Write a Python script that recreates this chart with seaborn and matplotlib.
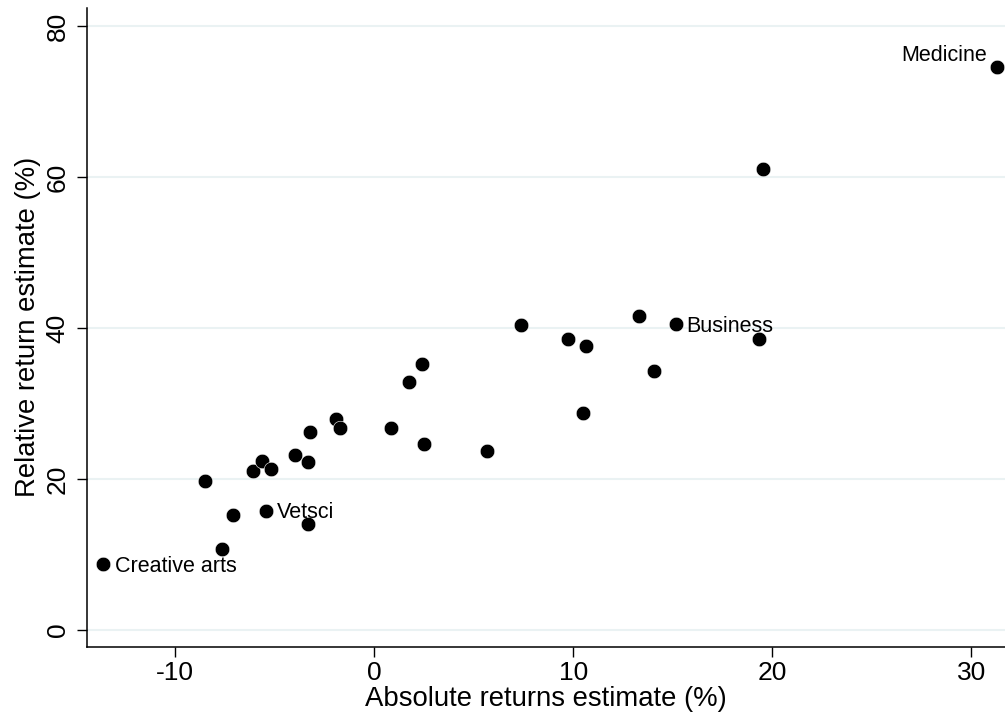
import matplotlib
matplotlib.use("Agg")
import matplotlib.pyplot as plt
import seaborn as sns
import pandas as pd

# values
abs_returns = [-13.6, -8.48, -7.10, -7.64, -5.44, -3.30, -6.10, -5.63, -5.19, -3.97,
               -3.30, -3.23, -1.94, -1.72, 0.85, 2.53, 1.73, 2.41, 5.68, 7.39,
               9.72, 10.65, 10.52, 13.33, 14.04, 15.15, 19.36, 19.53, 31.3]
rel_returns = [8.7, 19.7, 15.3, 10.75, 15.8, 14.1, 21.1, 22.4, 21.4, 23.2,
               22.3, 26.3, 27.9, 26.7, 26.7, 24.7, 32.9, 35.3, 23.7, 40.4,
               38.6, 37.6, 28.8, 41.6, 34.3, 40.5, 38.5, 61.1, 74.6]
labels = ["Creative arts", "", "", "", "Vetsci", "", "", "", "", "",
          "", "", "", "", "", "", "", "", "", "",
          "", "", "", "", "", "Business", "", "", "Medicine"]
x_ticks = [-10, 0, 10, 20, 30]
y_ticks = [0, 20, 40, 60, 80]

df = pd.DataFrame({"x": abs_returns, "y": rel_returns, "label": labels})

sns.set_style("white")
plt.rcParams['font.family'] = ['Liberation Sans', 'DejaVu Sans']
plt.rcParams['axes.unicode_minus'] = False
plt.rcParams['text.color'] = 'black'
plt.rcParams['axes.labelcolor'] = 'black'
plt.rcParams['xtick.color'] = 'black'
plt.rcParams['ytick.color'] = 'black'

fig = plt.figure(figsize=(10.05, 7.22), dpi=100)
ax = fig.add_axes([0.0863, 0.1043, 0.9137, 0.8847])

for t in y_ticks:
    ax.axhline(t, color="#eaf2f3", lw=1.5, zorder=0)

sns.scatterplot(data=df, x="x", y="y", ax=ax, color="black", s=110,
                edgecolor="white", linewidth=0.4, zorder=3)

for _, r in df[df.label != ""].iterrows():
    if r.label == "Medicine":
        ax.annotate(r.label, (r.x, r.y), xytext=(-7, 4), textcoords="offset points",
                    ha="right", va="baseline", fontsize=15.5)
    else:
        ax.annotate(r.label, (r.x, r.y), xytext=(8, -5.5), textcoords="offset points",
                    ha="left", va="baseline", fontsize=15.5)

ax.set_xlim(-14.44, 31.7)
ax.set_ylim(-2.2, 82.4)
ax.set_xticks(x_ticks)
ax.set_yticks(y_ticks)
ax.tick_params(axis="both", direction="out", length=7.2, width=1, labelsize=19,
               bottom=True, left=True)
ax.tick_params(axis="x", pad=3)
ax.tick_params(axis="y", pad=5)
for lbl in ax.get_yticklabels():
    lbl.set_rotation(90)
    lbl.set_va("center")

for side in ["top", "right"]:
    ax.spines[side].set_visible(False)
for side in ["left", "bottom"]:
    ax.spines[side].set_color("black")
    ax.spines[side].set_linewidth(1.1)

ax.set_xlabel("Absolute returns estimate (%)", fontsize=19.8, labelpad=0.5)
ax.set_ylabel("Relative return estimate (%)", fontsize=19.8, labelpad=3.5)

fig.savefig("out.png", dpi=100)
